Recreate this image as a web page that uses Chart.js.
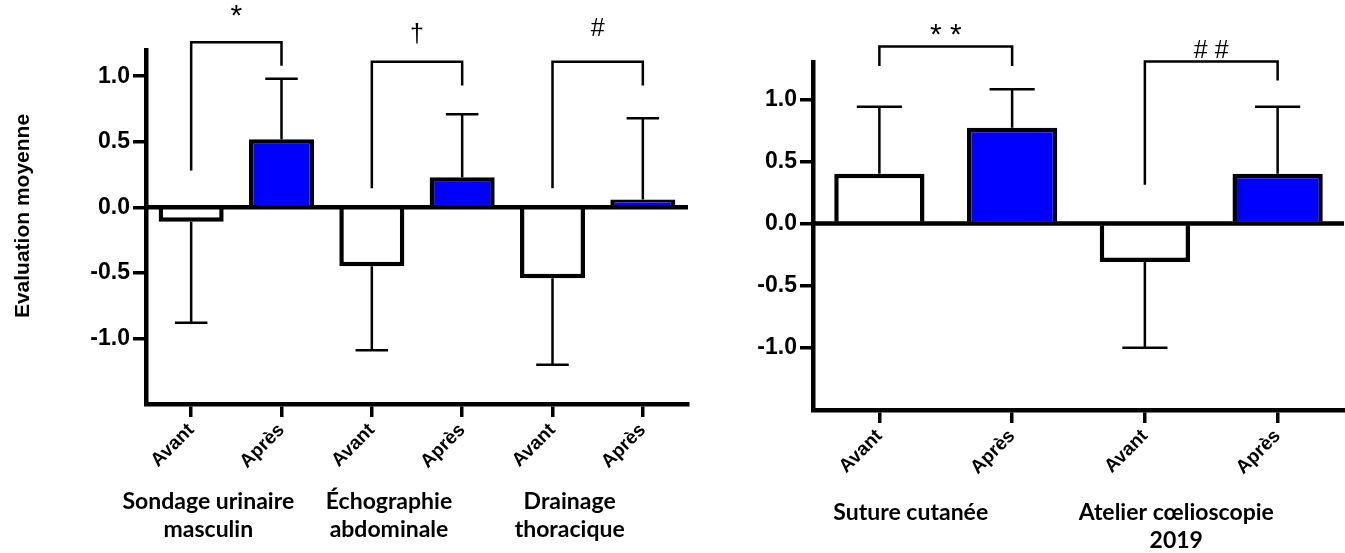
<!DOCTYPE html>
<html><head><meta charset="utf-8">
<script src="https://cdn.jsdelivr.net/npm/chart.js@4.4.0/dist/chart.umd.min.js"></script>
<style>
html,body{margin:0;padding:0;background:#fff;overflow:hidden}
#wrap{position:relative;width:1345px;height:553px;background:#fff}
#left{position:absolute;left:0;top:0;width:700px;height:553px}
#right{position:absolute;left:700px;top:0;width:645px;height:553px}
</style></head><body>
<div id="wrap">
  <div id="left"><canvas id="c1" width="700" height="553"></canvas></div>
  <div id="right"><canvas id="c2" width="645" height="553"></canvas></div>
</div>
<script>
// ---------- data ----------
const leftCategories = ['Avant', 'Après', 'Avant', 'Après', 'Avant', 'Après'];
const leftMeans = [-0.11, 0.52, -0.45, 0.23, -0.54, 0.06];
const leftSD = [0.77, 0.46, 0.64, 0.48, 0.66, 0.62];
const leftGroups = [['Sondage urinaire', 'masculin'], ['Échographie', 'abdominale'], ['Drainage', 'thoracique']];
const leftSigns = ['*', '†', '#'];
const leftBracketTop = [1.26, 1.11, 1.11];
const leftBracketLeftEnd = [0.28, 0.145, 0.145];
const leftBracketRightEnd = [1.08, 0.93, 0.93];
const leftSignLevel = [1.45, 1.31, 1.36];

const rightCategories = ['Avant', 'Après', 'Avant', 'Après'];
const rightMeans = [0.40, 0.77, -0.31, 0.40];
const rightSD = [0.54, 0.31, 0.69, 0.54];
const rightGroups = [['Suture cutanée'], ['Atelier cœlioscopie', '2019']];
const rightSigns = ['* *', '# #'];
const rightBracketTop = [1.424, 1.304];
const rightBracketLeftEnd = [1.267, 0.312];
const rightBracketRightEnd = [1.267, 1.152];
const rightSignLevel = [1.515, 1.39];

const yTickValues = [-1.0, -0.5, 0.0, 0.5, 1.0];
const yTitle = 'Evaluation moyenne';

// ---------- drawing helpers ----------
const SANS = '"Liberation Sans", Arial, sans-serif';
const annotate = {
  id: 'annotate',
  afterDatasetsDraw(chart, args, o) {
    const ctx = chart.ctx, y = chart.scales.y, ca = chart.chartArea;
    const meta = chart.getDatasetMeta(0);
    ctx.save();
    ctx.strokeStyle = '#000';
    ctx.fillStyle = '#000';
    // zero line
    const z = y.getPixelForValue(0);
    ctx.lineWidth = 4.5;
    ctx.beginPath(); ctx.moveTo(ca.left, z); ctx.lineTo(ca.right, z); ctx.stroke();
    // error bars (one-sided, away from zero)
    ctx.lineWidth = 2.5;
    ctx.lineCap = 'butt';
    meta.data.forEach((bar, i) => {
      const v = o.means[i], e = o.sd[i];
      const end = v >= 0 ? v + e : v - e;
      const p0 = y.getPixelForValue(v), p1 = y.getPixelForValue(end);
      const half = bar.width / 4;
      ctx.beginPath();
      ctx.moveTo(bar.x, p0); ctx.lineTo(bar.x, p1);
      ctx.moveTo(bar.x - half, p1); ctx.lineTo(bar.x + half, p1);
      ctx.stroke();
    });
    // brackets + significance signs
    o.signs.forEach((s, g) => {
      const xa = meta.data[2 * g].x, xb = meta.data[2 * g + 1].x;
      const top = y.getPixelForValue(o.top[g]);
      ctx.lineWidth = 2.5;
      ctx.beginPath();
      ctx.moveTo(xa, y.getPixelForValue(o.leftEnd[g]));
      ctx.lineTo(xa, top); ctx.lineTo(xb, top);
      ctx.lineTo(xb, y.getPixelForValue(o.rightEnd[g]));
      ctx.stroke();
      ctx.font = (s.indexOf('*') >= 0 ? '30px ' : '25px ') + SANS;
      ctx.textAlign = 'center'; ctx.textBaseline = 'middle';
      ctx.fillText(s, (xa + xb) / 2, y.getPixelForValue(o.signLevel[g]));
    });
    // group labels under the axis
    ctx.font = 'bold 23px Lato, "Open Sans", sans-serif';
    ctx.textAlign = 'center'; ctx.textBaseline = 'middle';
    o.groups.forEach((lines, g) => {
      const cx = (meta.data[2 * g].x + meta.data[2 * g + 1].x) / 2 + o.groupShift;
      lines.forEach((t, k) => ctx.fillText(t, cx, ca.bottom + o.groupDy + k * 28));
    });
    // y axis title
    if (o.yTitle) {
      ctx.font = 'bold 21px ' + SANS;
      ctx.translate(ca.left - 123, (ca.top + ca.bottom) / 2 - 11);
      ctx.rotate(-Math.PI / 2);
      ctx.fillText(o.yTitle, 0, 0);
    }
    ctx.restore();
  }
};

function makeChart(id, cats, means, sd, yMin, yMax, pad, yWidth, xHeight, barPct, ann) {
  return new Chart(document.getElementById(id), {
    type: 'bar',
    data: {
      labels: cats,
      datasets: [{
        data: means,
        backgroundColor: cats.map(c => c === 'Avant' ? '#ffffff' : '#0000ff'),
        borderColor: '#000',
        borderWidth: 4.5,
        borderSkipped: 'start',
        barPercentage: barPct,
        categoryPercentage: 1
      }]
    },
    plugins: [annotate],
    options: {
      responsive: false,
      animation: false,
      events: [],
      layout: { padding: pad },
      plugins: { legend: { display: false }, tooltip: { enabled: false }, annotate: ann },
      scales: {
        x: {
          offset: true,
          grid: { display: true, offset: false, drawOnChartArea: false, drawTicks: true, tickLength: 13, lineWidth: 3.5, color: '#000', tickColor: '#000' },
          border: { display: true, width: 4.5, color: '#000' },
          ticks: { autoSkip: false, minRotation: 45, maxRotation: 45, padding: 2, color: '#000', font: { family: SANS, weight: 'bold', size: 19 } },
          afterFit: s => { s.height = xHeight; }
        },
        y: {
          min: yMin, max: yMax,
          afterBuildTicks: s => { s.ticks = yTickValues.map(v => ({ value: v })); },
          grid: { display: true, drawOnChartArea: false, drawTicks: true, tickLength: 13, lineWidth: 3.5, color: '#000', tickColor: '#000' },
          border: { display: true, width: 4.5, color: '#000' },
          ticks: { padding: 3, color: '#000', callback: v => Number(v).toFixed(1), font: { family: SANS, weight: 'bold', size: 23 } },
          afterFit: s => { s.width = yWidth; }
        }
      }
    }
  });
}

makeChart('c1', leftCategories, leftMeans, leftSD, -1.5, 1.2,
  { top: 50, right: 12, bottom: 0, left: 0 }, 146, 149, 0.72,
  { means: leftMeans, sd: leftSD, signs: leftSigns, top: leftBracketTop, leftEnd: leftBracketLeftEnd,
    rightEnd: leftBracketRightEnd, signLevel: leftSignLevel, groups: leftGroups, groupShift: -28, groupDy: 98, yTitle: yTitle });

makeChart('c2', rightCategories, rightMeans, rightSD, -1.5, 1.3,
  { top: 62, right: 1, bottom: 0, left: 0 }, 113, 143, 0.68,
  { means: rightMeans, sd: rightSD, signs: rightSigns, top: rightBracketTop, leftEnd: rightBracketLeftEnd,
    rightEnd: rightBracketRightEnd, signLevel: rightSignLevel, groups: rightGroups, groupShift: -35, groupDy: 103, yTitle: null });
</script>
</body></html>
